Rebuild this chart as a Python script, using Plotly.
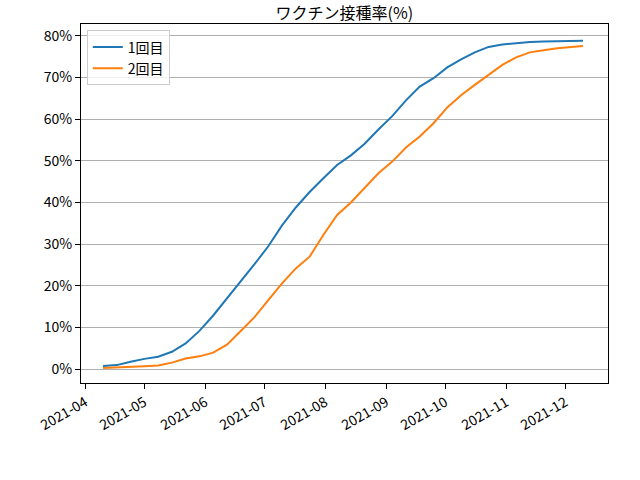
import plotly.graph_objects as go

dates = ["2021-04-10", "2021-04-17", "2021-04-24", "2021-05-01", "2021-05-08",
         "2021-05-15", "2021-05-22", "2021-05-29", "2021-06-05", "2021-06-12",
         "2021-06-19", "2021-06-26", "2021-07-03", "2021-07-10", "2021-07-17",
         "2021-07-24", "2021-07-31", "2021-08-07", "2021-08-14", "2021-08-21",
         "2021-08-28", "2021-09-04", "2021-09-11", "2021-09-18", "2021-09-25",
         "2021-10-02", "2021-10-09", "2021-10-16", "2021-10-23", "2021-10-30",
         "2021-11-06", "2021-11-13", "2021-11-20", "2021-11-27", "2021-12-04",
         "2021-12-10"]

dose1 = [0.8, 1.0, 1.8, 2.5, 3.0, 4.2, 6.2, 9.2, 12.9, 17.0,
         21.0, 25.2, 29.5, 34.5, 38.8, 42.5, 45.8, 49.0, 51.3, 54.1,
         57.5, 60.7, 64.5, 67.8, 69.8, 72.4, 74.3, 76.0, 77.3, 77.9,
         78.2, 78.5, 78.6, 78.7, 78.8, 78.8]

dose2 = [0.3, 0.4, 0.6, 0.7, 0.9, 1.6, 2.6, 3.1, 4.0, 5.9,
         9.2, 12.5, 16.6, 20.6, 24.2, 27.0, 32.2, 37.0, 40.0, 43.4,
         47.0, 49.8, 53.2, 55.8, 59.0, 62.8, 65.7, 68.2, 70.7, 73.0,
         74.8, 76.0, 76.5, 77.0, 77.3, 77.5]

font = "Noto Sans CJK JP, DejaVu Sans, sans-serif"

fig = go.Figure()
fig.add_trace(go.Scatter(x=dates, y=dose1, mode="lines", name="1回目",
                         line=dict(color="#1f77b4", width=2)))
fig.add_trace(go.Scatter(x=dates, y=dose2, mode="lines", name="2回目",
                         line=dict(color="#ff7f0e", width=2)))

fig.update_layout(
    width=640, height=480,
    margin=dict(l=81, r=32, t=24, b=97),
    paper_bgcolor="white", plot_bgcolor="white",
    font=dict(family=font, size=14, color="black"),
    title=dict(text="ワクチン接種率(%)", x=0.538, xanchor="center",
               y=0.972, yanchor="middle", font=dict(size=16), automargin=False),
    legend=dict(x=0.011, y=0.982, xanchor="left", yanchor="top",
                bordercolor="#cccccc", borderwidth=1,
                bgcolor="rgba(255,255,255,0.8)", font=dict(size=14)),
    showlegend=True,
)

fig.update_xaxes(
    type="date", range=["2021-03-29 19:00", "2021-12-22 17:00"],
    tickformat="%Y-%m", dtick="M1", tick0="2021-04-01",
    tickangle=-30, ticks="outside", ticklen=5, tickcolor="black",
    showgrid=False, showline=True, linecolor="black", linewidth=1, mirror=True,
    zeroline=False, automargin=False,
)
fig.update_yaxes(
    range=[-3.29, 82.8], dtick=10, ticksuffix="%",
    ticks="outside", ticklen=5, tickcolor="black",
    showgrid=True, gridcolor="#b0b0b0", gridwidth=1,
    showline=True, linecolor="black", linewidth=1, mirror=True,
    zeroline=False, automargin=False,
)

fig.write_html("out.html", config={"displayModeBar": False},
               post_script="document.body.style.margin='0';")
